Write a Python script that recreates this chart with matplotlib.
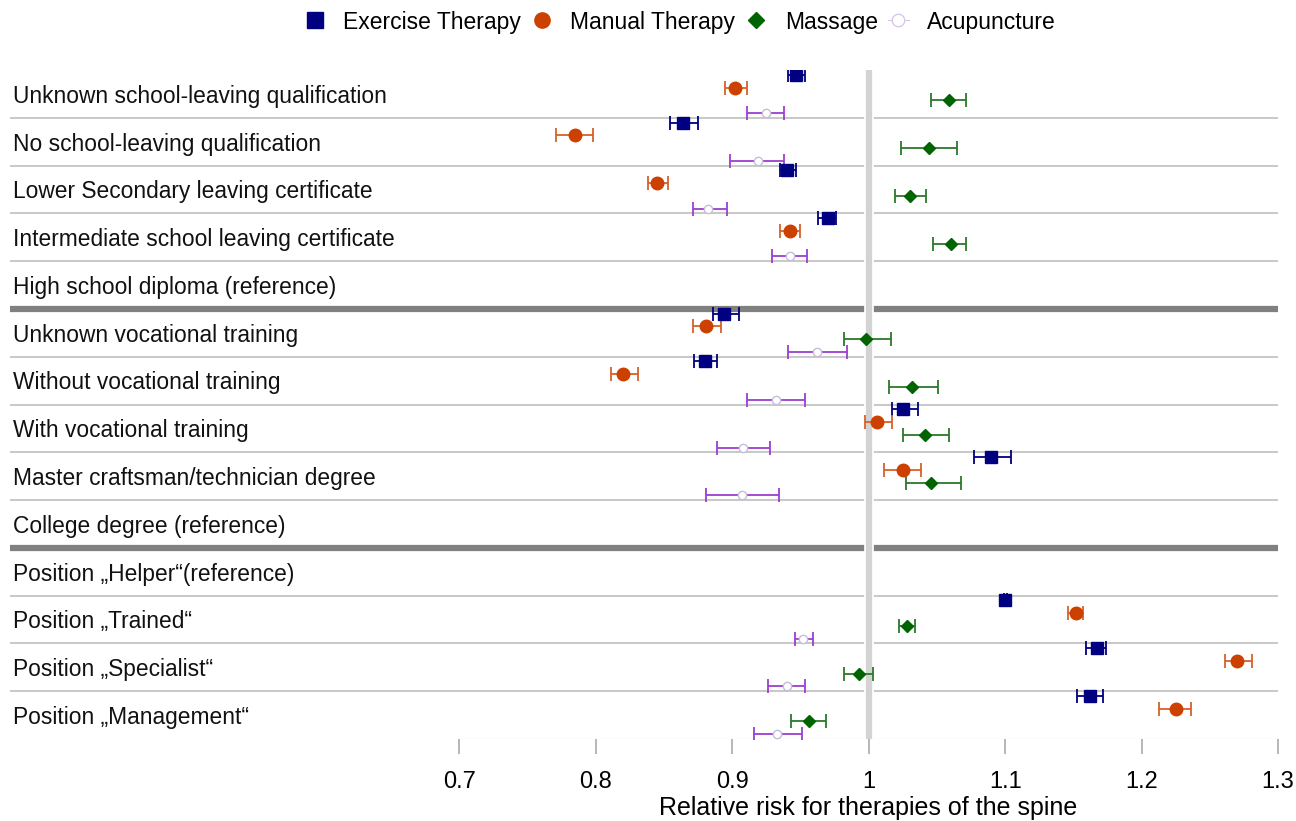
import numpy as np
import matplotlib
matplotlib.use('Agg')
from matplotlib import pyplot as plt
from matplotlib.lines import Line2D

plt.rcParams['font.family'] = ['Liberation Sans', 'DejaVu Sans']

rows = [
    'Unknown school-leaving qualification',
    'No school-leaving qualification',
    'Lower Secondary leaving certificate',
    'Intermediate school leaving certificate',
    'High school diploma (reference)',
    'Unknown vocational training',
    'Without vocational training',
    'With vocational training',
    'Master craftsman/technician degree',
    'College degree (reference)',
    'Position \u201eHelper\u201c(reference)',
    'Position \u201eTrained\u201c',
    'Position \u201eSpecialist\u201c',
    'Position \u201eManagement\u201c',
]
nan = np.nan

# estimate, lower, upper per row
exercise = [0.947, 0.864, 0.940, 0.970, nan, 0.894, 0.880, 1.025, 1.090, nan, nan, 1.100, 1.167, 1.162]
exercise_lo = [0.941, 0.854, 0.935, 0.963, nan, 0.886, 0.872, 1.017, 1.077, nan, nan, 1.099, 1.159, 1.153]
exercise_hi = [0.953, 0.875, 0.947, 0.976, nan, 0.905, 0.889, 1.036, 1.104, nan, nan, 1.101, 1.174, 1.172]

manual = [0.902, 0.785, 0.845, 0.942, nan, 0.881, 0.820, 1.006, 1.025, nan, nan, 1.152, 1.270, 1.225]
manual_lo = [0.895, 0.771, 0.838, 0.935, nan, 0.871, 0.811, 0.997, 1.011, nan, nan, 1.146, 1.261, 1.213]
manual_hi = [0.911, 0.798, 0.853, 0.950, nan, 0.892, 0.831, 1.017, 1.038, nan, nan, 1.157, 1.281, 1.236]

massage = [1.059, 1.044, 1.030, 1.060, nan, 0.998, 1.032, 1.041, 1.046, nan, nan, 1.028, 0.993, 0.956]
massage_lo = [1.046, 1.024, 1.019, 1.047, nan, 0.982, 1.015, 1.025, 1.027, nan, nan, 1.022, 0.982, 0.943]
massage_hi = [1.071, 1.065, 1.042, 1.071, nan, 1.016, 1.051, 1.059, 1.068, nan, nan, 1.034, 1.003, 0.969]

acup = [0.925, 0.919, 0.882, 0.942, nan, 0.962, 0.932, 0.908, 0.907, nan, nan, 0.952, 0.940, 0.933]
acup_lo = [0.911, 0.898, 0.871, 0.929, nan, 0.941, 0.911, 0.889, 0.881, nan, nan, 0.946, 0.926, 0.916]
acup_hi = [0.938, 0.938, 0.896, 0.955, nan, 0.984, 0.953, 0.928, 0.934, nan, nan, 0.959, 0.953, 0.951]

ticks = [0.7, 0.8, 0.9, 1.0, 1.1, 1.2, 1.3]
tick_labels = ['0.7', '0.8', '0.9', '1', '1.1', '1.2', '1.3']

fig = plt.figure(figsize=(12.96, 8.21), dpi=100)
ax = fig.add_axes([10 / 1296, 1 - 739 / 821, 1268 / 1296, 669 / 821])

n = len(rows)
y = np.arange(n)

# separators
for i in range(n - 1):
    if i in (4, 9):
        ax.axhline(i + 0.5, color='#808080', lw=4.5, zorder=1)
    else:
        ax.axhline(i + 0.5, color='#c8c8c8', lw=1.4, zorder=1)
ax.plot([0.7, 1.3], [n - 0.5, n - 0.5], color='#eeeeee', lw=1, zorder=1)

# reference line
ax.axvline(1.0, color='white', lw=7, zorder=2)
ax.axvline(1.0, color='#d3d3d3', lw=4.5, zorder=3)

series = [
    (exercise, exercise_lo, exercise_hi, -0.4, 's', '#000080', '#000080', '#000080', 8.5),
    (manual, manual_lo, manual_hi, -0.133, 'o', '#cc4000', '#cc4000', '#d8602a', 9),
    (massage, massage_lo, massage_hi, 0.133, 'D', '#006400', '#006400', '#2a7a2a', 6.5),
    (acup, acup_lo, acup_hi, 0.4, 'o', 'white', '#c8bcd8', '#9b3fd0', 6),
]
for est, lo, hi, off, mk, fc, ec, lc, ms in series:
    est = np.array(est)
    err = np.array([est - np.array(lo), np.array(hi) - est])
    ax.errorbar(est, y + off, xerr=err, fmt='none', ecolor=lc, elinewidth=1.3,
                capsize=5, capthick=1.3, zorder=4)
    ax.plot(est, y + off, linestyle='none', marker=mk, markersize=ms,
            markerfacecolor=fc, markeredgecolor=ec, markeredgewidth=1, zorder=5)

for i, lab in enumerate(rows):
    ax.text(0.002, i + 0.05, lab, transform=ax.get_yaxis_transform(),
            ha='left', va='center', fontsize=16.4, color='#111111')

ax.set_xlim(0.3706, 1.3)
ax.set_ylim(n - 0.5, -0.5)
ax.set_yticks([])
ax.set_xticks(ticks)
ax.set_xticklabels(tick_labels, fontsize=17)
ax.tick_params(axis='x', length=11, width=1.2, color='#aaaaaa', pad=12)
for s in ax.spines.values():
    s.set_visible(False)

fig.text(868 / 1296, 1 - 808 / 821, 'Relative risk for therapies of the spine',
         ha='center', va='center', fontsize=18)

handles = [
    Line2D([], [], linestyle='none', marker='s', markersize=11, color='#000080'),
    Line2D([], [], linestyle='none', marker='o', markersize=11, color='#cc4000'),
    Line2D([], [], linestyle='none', marker='D', markersize=8, color='#006400'),
    Line2D([], [], linestyle='-', lw=0.8, marker='o', markersize=9, color='#d8c8e8',
           markerfacecolor='white', markeredgecolor='#d8c8e8'),
]
labels = ['Exercise Therapy', 'Manual Therapy', 'Massage', 'Acupuncture']
fig.legend(handles, labels, loc='center', bbox_to_anchor=(680 / 1296, 1 - 22 / 821),
           ncol=4, frameon=False, handlelength=0.9, handletextpad=0.8,
           columnspacing=0.45, prop={'size': 16.5})

fig.savefig('out.png', dpi=100)
